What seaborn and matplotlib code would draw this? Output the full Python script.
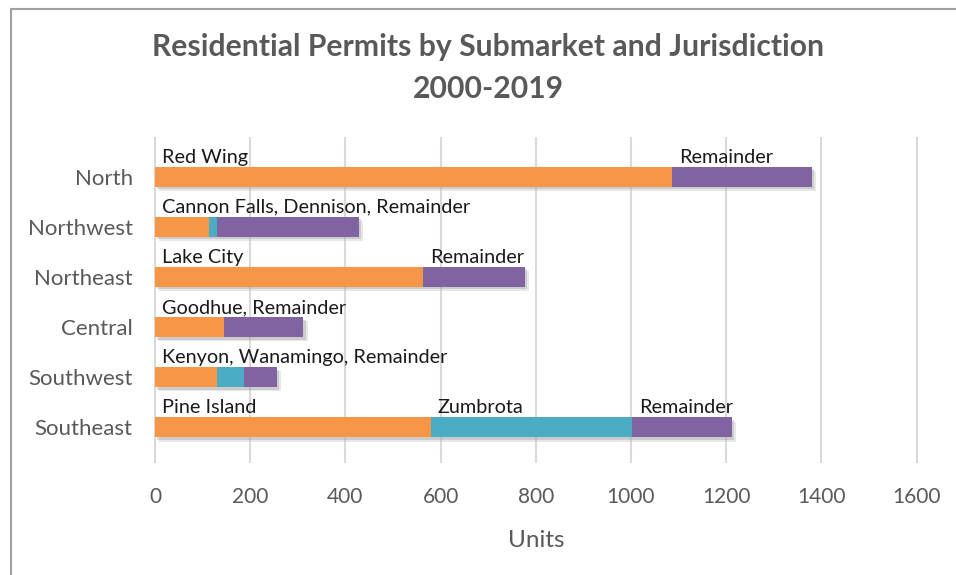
import matplotlib
matplotlib.use("Agg")
import matplotlib.pyplot as plt
import matplotlib.patheffects as pe
from matplotlib.lines import Line2D
import numpy as np
import pandas as pd
import seaborn as sns

# Residential permits 2000-2019, units by submarket
submarkets = ["North", "Northwest", "Northeast", "Central", "Southwest", "Southeast"]
first_city = [1087, 113, 563, 144, 131, 579]
second_city = [0, 17, 0, 0, 55, 424]
remainder = [293, 298, 214, 168, 70, 209]

first_labels = ["Red Wing", "Cannon Falls, Dennison, Remainder", "Lake City",
                "Goodhue, Remainder", "Kenyon, Wanamingo, Remainder", "Pine Island"]
second_labels = ["", "", "", "", "", "Zumbrota"]
remainder_labels = ["Remainder", "", "Remainder", "", "", "Remainder"]

x_ticks = [0, 200, 400, 600, 800, 1000, 1200, 1400, 1600]

ORANGE = "#F79646"
TEAL = "#4BACC6"
PURPLE = "#8064A2"
GREY_TEXT = "#595959"

sns.set_theme(style="white")
plt.rcParams["font.family"] = ["Lato", "DejaVu Sans"]

df = pd.DataFrame({
    "submarket": submarkets,
    "first": first_city,
    "second": second_city,
    "remainder": remainder,
})
df["cum_first"] = df["first"]
df["cum_second"] = df["first"] + df["second"]
df["cum_total"] = df["cum_second"] + df["remainder"]

fig = plt.figure(figsize=(9.56, 5.75), dpi=100)
ax = fig.add_axes([0.1606, 0.1948, 0.7997, 0.5669])

# stacked bars drawn as overlapping cumulative layers
sns.barplot(data=df, y="submarket", x="cum_total", color=PURPLE, orient="h",
            width=0.4, saturation=1, ax=ax, order=submarkets)
n_total = len(ax.patches)
sns.barplot(data=df, y="submarket", x="cum_second", color=TEAL, orient="h",
            width=0.4, saturation=1, ax=ax, order=submarkets)
sns.barplot(data=df, y="submarket", x="cum_first", color=ORANGE, orient="h",
            width=0.4, saturation=1, ax=ax, order=submarkets)

for p in ax.patches[:n_total]:
    p.set_path_effects([
        pe.SimplePatchShadow(offset=(3, -3), shadow_rgbFace="#bdbdbd", alpha=0.35),
        pe.SimplePatchShadow(offset=(1.8, -1.8), shadow_rgbFace="#9a9a9a", alpha=0.35),
        pe.Normal()])
for p in ax.patches:
    p.set_linewidth(0)

ax.set_xlim(-3, 1600 + 3)
ax.set_ylim(5.71, -0.79)
ax.set_xticks(x_ticks)
ax.set_xticklabels([str(t) for t in x_ticks])
ax.xaxis.grid(True, color="#D9D9D9", linewidth=1.5)
ax.set_axisbelow(True)
for s in ax.spines.values():
    s.set_visible(False)
ax.tick_params(axis="x", length=0, pad=17, labelsize=15, labelcolor=GREY_TEXT)
ax.tick_params(axis="y", length=0, pad=15, labelsize=16, labelcolor=GREY_TEXT)
ax.set_ylabel("")
ax.set_xlabel("Units", fontsize=17.5, color=GREY_TEXT, labelpad=17)

# segment labels sit just above each bar, near the start of the segment
label_y_off = -0.22
for i in range(len(submarkets)):
    starts = [0, df["cum_first"][i], df["cum_second"][i]]
    texts = [first_labels[i], second_labels[i], remainder_labels[i]]
    for start, txt in zip(starts, texts):
        if txt:
            ax.annotate(txt, xy=(start, i + label_y_off), xytext=(5, 0),
                        textcoords="offset points", ha="left", va="bottom",
                        fontsize=14.3, color="#1a1a1a")

fig.text(0.511, 0.918, "Residential Permits by Submarket and Jurisdiction",
         ha="center", va="center", fontsize=21.7, fontweight="bold", color=GREY_TEXT)
fig.text(0.511, 0.845, "2000-2019",
         ha="center", va="center", fontsize=21.7, fontweight="bold", color=GREY_TEXT)

# outer frame edges
fig.add_artist(Line2D([10.5 / 956, 10.5 / 956], [0, 1 - 8.5 / 575], transform=fig.transFigure,
                      color="#A0A0A0", linewidth=1.5))
fig.add_artist(Line2D([10.5 / 956, 1], [1 - 8.5 / 575, 1 - 8.5 / 575], transform=fig.transFigure,
                      color="#A0A0A0", linewidth=1.5))

fig.savefig("out.png", dpi=100, facecolor="white")
